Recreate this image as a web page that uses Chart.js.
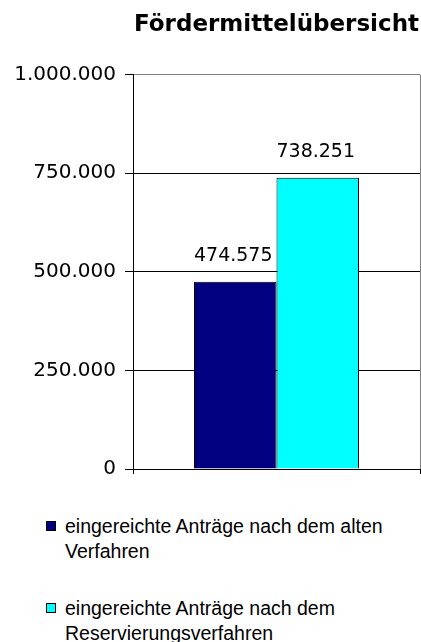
<!DOCTYPE html>
<html>
<head>
<meta charset="utf-8">
<script src="https://cdn.jsdelivr.net/npm/chart.js@4/dist/chart.umd.min.js"></script>
<style>
    body { margin: 0; background: #fff; width: 421px; height: 642px; overflow: hidden; position: relative; }
    #wrap { position: absolute; left: 0; top: 0; width: 421px; height: 490px; }
    #legend { position: absolute; left: 46px; top: 514px; width: 370px; font-family: "Liberation Sans", Arial, sans-serif; font-size: 19.5px; line-height: 25px; color: #000; }
    .item { display: flex; align-items: flex-start; margin-bottom: 32px; }
    .box { width: 8px; height: 8px; border: 1px solid #000; margin-top: 7px; margin-right: 9px; flex: none; }
    .txt { width: 335px; }
</style>
</head>
<body>
<div id="wrap"><canvas id="chart"></canvas></div>
<div id="legend"></div>
<script>
// Fördermittelübersicht

const categories = [''];
const seriesNames = [
    'eingereichte Anträge nach dem alten Verfahren',
    'eingereichte Anträge nach dem Reservierungsverfahren'
];
const altesVerfahren = [474575];
const reservierungsVerfahren = [738251];
const yTicks = [0, 250000, 500000, 750000, 1000000];

// German thousands separator
function formatNumber(v) {
    return String(Math.round(v)).replace(/\B(?=(\d{3})+(?!\d))/g, '.');
}

// Draw the value above each bar
const valueLabels = {
    id: 'valueLabels',
    afterDatasetsDraw(chart) {
        const ctx = chart.ctx;
        ctx.save();
        ctx.font = '19px "DejaVu Sans"';
        ctx.fillStyle = '#000';
        ctx.textAlign = 'center';
        ctx.textBaseline = 'bottom';
        chart.data.datasets.forEach((ds, i) => {
            chart.getDatasetMeta(i).data.forEach((bar, j) => {
                ctx.fillText(formatNumber(ds.data[j]), bar.x - 2, bar.y - 16);
            });
        });
        ctx.restore();
    }
};

const ctx = document.getElementById('chart').getContext('2d');

const chart = new Chart(ctx, {
    type: 'bar',
    data: {
        labels: categories,
        datasets: [
            {
                label: seriesNames[0],
                data: altesVerfahren,
                backgroundColor: '#000080',
                borderColor: '#000',
                borderWidth: 1
            },
            {
                label: seriesNames[1],
                data: reservierungsVerfahren,
                backgroundColor: '#00FFFF',
                borderColor: '#000',
                borderWidth: 1
            }
        ]
    },
    options: {
        responsive: true,
        maintainAspectRatio: false,
        animation: false,
        categoryPercentage: 0.575,
        barPercentage: 1,
        layout: {
            padding: { left: 0, right: 1, top: 0, bottom: 16 }
        },
        scales: {
            x: {
                grid: {
                    color: c => c.index === 0 ? '#000' : '#808080',
                    tickColor: '#000',
                    tickLength: 5
                },
                border: { color: '#000' },
                ticks: { display: false }
            },
            y: {
                min: yTicks[0],
                max: yTicks[yTicks.length - 1],
                afterBuildTicks: scale => {
                    scale.ticks = yTicks.map(v => ({ value: v }));
                },
                afterFit: scale => {
                    scale.width = 133;
                },
                grid: {
                    color: c => c.tick && c.tick.value === yTicks[yTicks.length - 1] ? '#808080' : '#000',
                    tickColor: '#000',
                    tickLength: 8
                },
                border: { color: '#000' },
                ticks: {
                    padding: 9,
                    color: '#000',
                    font: { family: 'DejaVu Sans', size: 20 },
                    callback: v => formatNumber(v)
                }
            }
        },
        plugins: {
            legend: { display: false },
            tooltip: { enabled: false },
            title: {
                display: true,
                text: 'Fördermittelübersicht',
                fullSize: false,
                color: '#000',
                font: { family: 'DejaVu Sans', size: 23, weight: 'bold' },
                padding: { top: 11, bottom: 36 }
            }
        }
    },
    plugins: [valueLabels]
});

// HTML legend (entries wrap over two lines)
const legendEl = document.getElementById('legend');
chart.options.plugins.legend.labels.generateLabels(chart).forEach(item => {
    const row = document.createElement('div');
    row.className = 'item';
    const box = document.createElement('span');
    box.className = 'box';
    box.style.background = item.fillStyle;
    const txt = document.createElement('span');
    txt.className = 'txt';
    txt.textContent = item.text;
    row.appendChild(box);
    row.appendChild(txt);
    legendEl.appendChild(row);
});
</script>
</body>
</html>
